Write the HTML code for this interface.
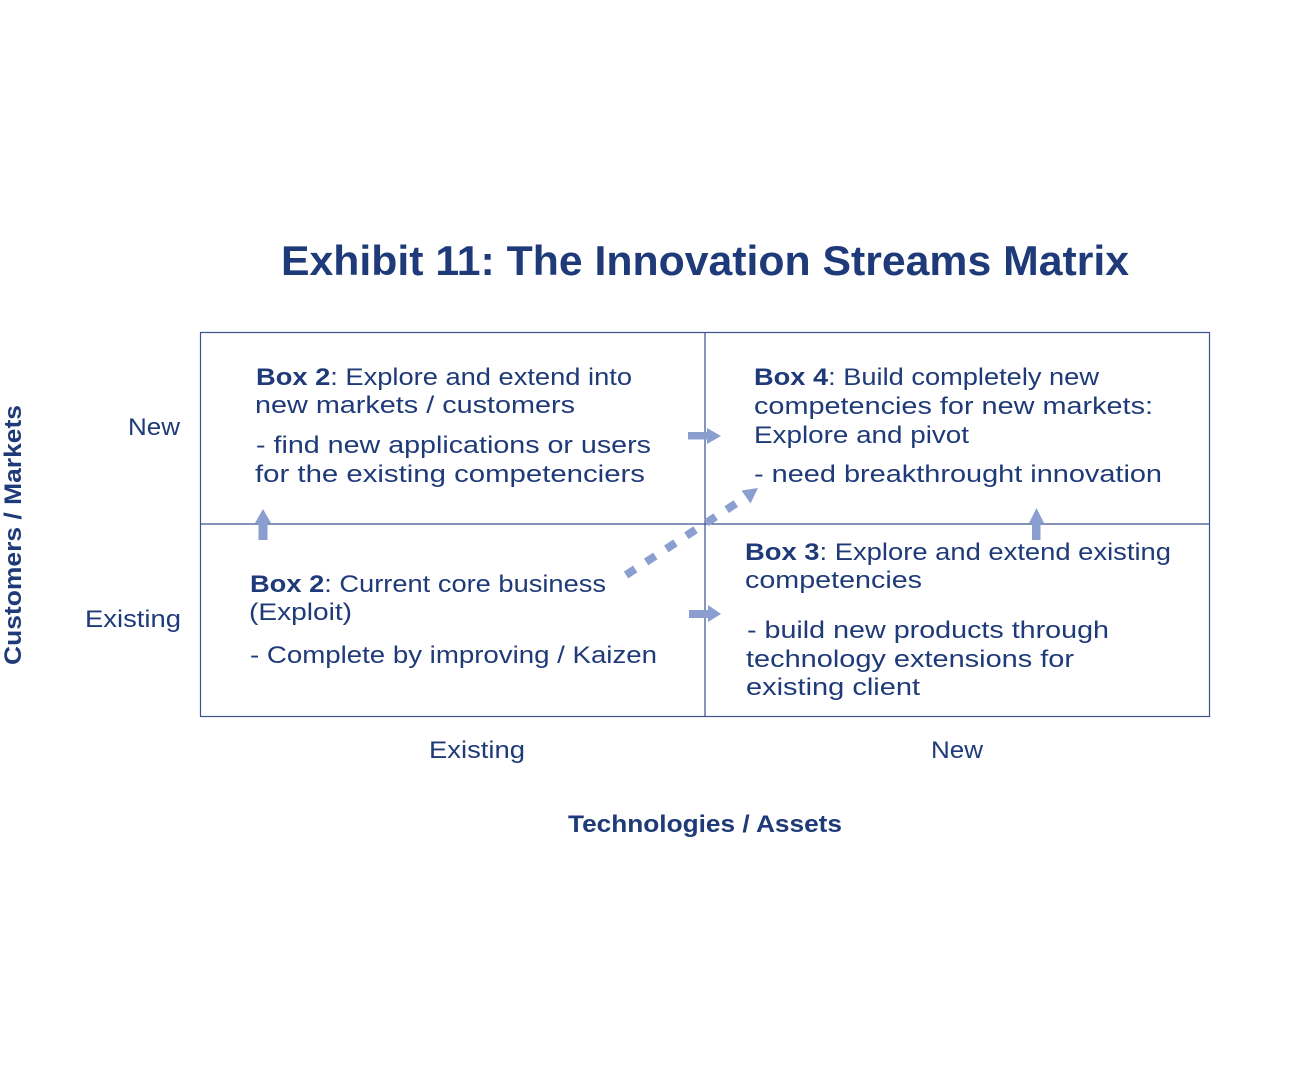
<!DOCTYPE html>
<html>
<head>
<meta charset="utf-8">
<style>
  html, body { margin:0; padding:0; background:#ffffff; }
  body { width:1301px; height:1080px; overflow:hidden; }
  svg { display:block; }
  text { font-family: "Liberation Sans", "DejaVu Sans", sans-serif; fill:#1f3a78; }
  .t { font-size:24px; }
  .b { font-weight:bold; }
</style>
</head>
<body>
<svg width="1301" height="1080" viewBox="0 0 1301 1080" xmlns="http://www.w3.org/2000/svg">
  <rect x="0" y="0" width="1301" height="1080" fill="#ffffff"/>

  <!-- Title -->
  <text x="281" y="275" font-size="42" class="b" textLength="848" lengthAdjust="spacingAndGlyphs">Exhibit 11: The Innovation Streams Matrix</text>

  <!-- Matrix frame -->
  <g stroke="#3b5190" stroke-width="1.2" fill="none">
    <rect x="200.5" y="332.5" width="1009" height="384"/>
    <line x1="705" y1="332.5" x2="705" y2="716.5"/>
    <line x1="200.5" y1="524" x2="1209.5" y2="524"/>
  </g>

  <!-- Arrows -->
  <g fill="#8a9fd0">
    <!-- left up -->
    <rect x="258.5" y="522" width="9" height="18"/>
    <polygon points="255,523 271,523 263,509"/>
    <!-- right up -->
    <rect x="1032" y="522" width="8.5" height="18"/>
    <polygon points="1029,523 1044,523 1036.5,508"/>
    <!-- top right arrow -->
    <rect x="688" y="432" width="20" height="7.5"/>
    <polygon points="707,428 707,444 721,436"/>
    <!-- bottom right arrow -->
    <rect x="689" y="610" width="20" height="8"/>
    <polygon points="708,605 708,622 721,614"/>
    <!-- diagonal head -->
    <polygon points="758,488 750.5,503.5 741.5,490.5"/>
  </g>
  <line x1="626" y1="575" x2="746" y2="497" stroke="#8a9fd0" stroke-width="8" stroke-dasharray="11 13"/>

  <!-- Box top-left -->
  <text class="t" x="256" y="385" textLength="376" lengthAdjust="spacingAndGlyphs"><tspan class="b">Box 2</tspan>: Explore and extend into</text>
  <text class="t" x="255" y="413" textLength="320" lengthAdjust="spacingAndGlyphs">new markets / customers</text>
  <text class="t" x="256" y="453" textLength="395" lengthAdjust="spacingAndGlyphs">- find new applications or users</text>
  <text class="t" x="255" y="482" textLength="390" lengthAdjust="spacingAndGlyphs">for the existing competenciers</text>

  <!-- Box top-right -->
  <text class="t" x="754" y="385" textLength="345" lengthAdjust="spacingAndGlyphs"><tspan class="b">Box 4</tspan>: Build completely new</text>
  <text class="t" x="754" y="414" textLength="399" lengthAdjust="spacingAndGlyphs">competencies for new markets:</text>
  <text class="t" x="754" y="443" textLength="215" lengthAdjust="spacingAndGlyphs">Explore and pivot</text>
  <text class="t" x="754" y="482" textLength="408" lengthAdjust="spacingAndGlyphs">- need breakthrought innovation</text>

  <!-- Box bottom-left -->
  <text class="t" x="250" y="592" textLength="356" lengthAdjust="spacingAndGlyphs"><tspan class="b">Box 2</tspan>: Current core business</text>
  <text class="t" x="249" y="620" textLength="103" lengthAdjust="spacingAndGlyphs">(Exploit)</text>
  <text class="t" x="250" y="663" textLength="407" lengthAdjust="spacingAndGlyphs">- Complete by improving / Kaizen</text>

  <!-- Box bottom-right -->
  <text class="t" x="745" y="560" textLength="426" lengthAdjust="spacingAndGlyphs"><tspan class="b">Box 3</tspan>: Explore and extend existing</text>
  <text class="t" x="745" y="588" textLength="177" lengthAdjust="spacingAndGlyphs">competencies</text>
  <text class="t" x="747" y="638" textLength="362" lengthAdjust="spacingAndGlyphs">- build new products through</text>
  <text class="t" x="746" y="667" textLength="328" lengthAdjust="spacingAndGlyphs">technology extensions for</text>
  <text class="t" x="746" y="695" textLength="174" lengthAdjust="spacingAndGlyphs">existing client</text>

  <!-- Axis labels -->
  <text class="t" x="128" y="435" textLength="52" lengthAdjust="spacingAndGlyphs">New</text>
  <text class="t" x="85" y="627" textLength="96" lengthAdjust="spacingAndGlyphs">Existing</text>
  <text class="t" x="429" y="758" textLength="96" lengthAdjust="spacingAndGlyphs">Existing</text>
  <text class="t" x="931" y="758" textLength="52" lengthAdjust="spacingAndGlyphs">New</text>
  <text class="t b" x="568" y="832" textLength="274" lengthAdjust="spacingAndGlyphs">Technologies / Assets</text>
  <text class="t b" transform="translate(21,665) rotate(-90)" x="0" y="0" textLength="260" lengthAdjust="spacingAndGlyphs">Customers / Markets</text>
</svg>
</body>
</html>
